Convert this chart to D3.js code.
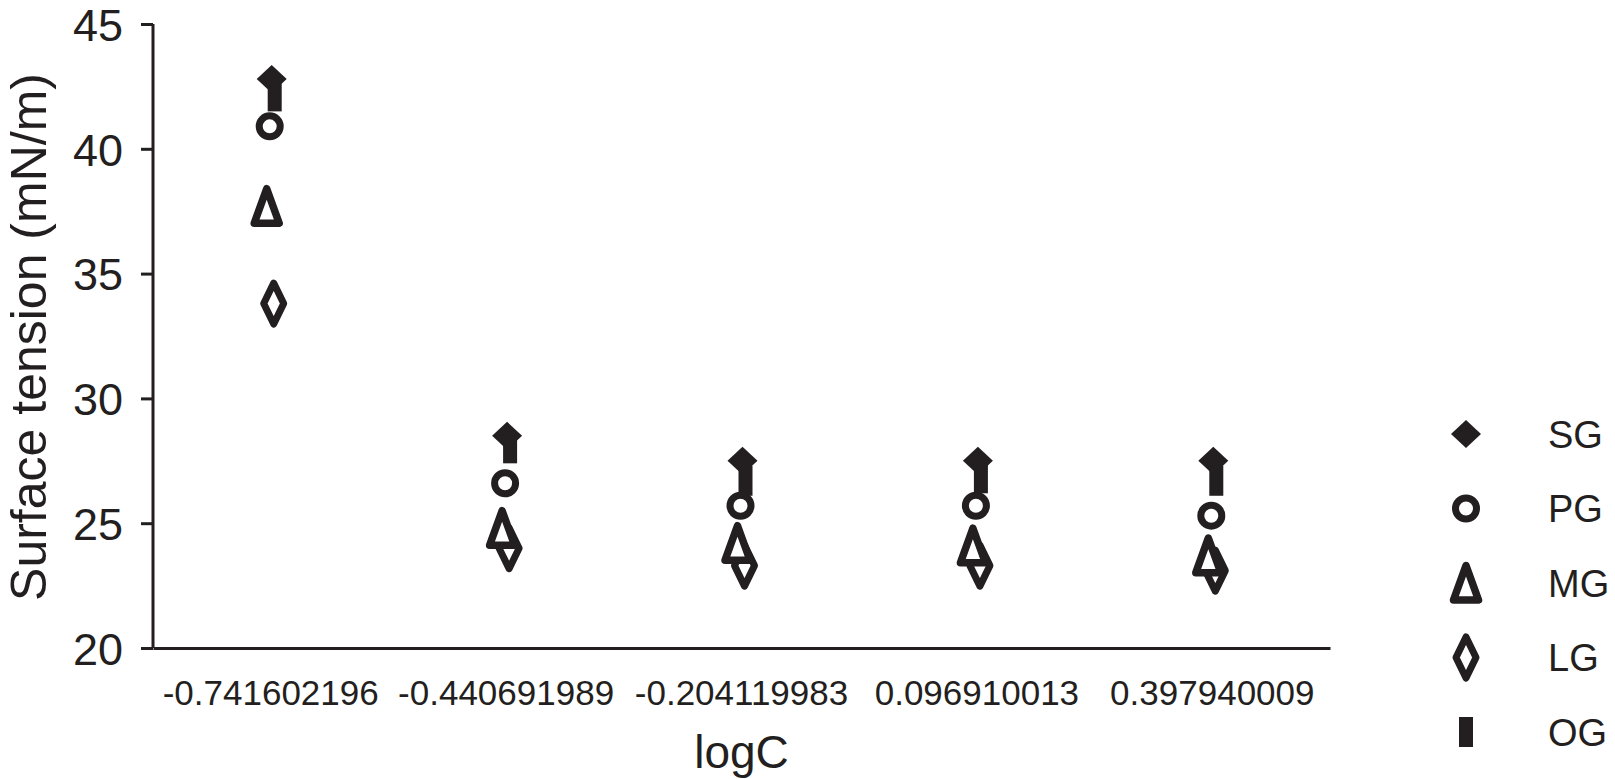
<!DOCTYPE html>
<html>
<head>
<meta charset="utf-8">
<script src="https://cdn.jsdelivr.net/npm/d3@7"></script>
<style>
  body { margin: 0; background: #fff; }
  svg text { font-family: "Liberation Sans", Arial, Helvetica, sans-serif; fill: #231f20; }
</style>
</head>
<body>
<div id="chart"></div>
<script>
const width = 1615;
const height = 779;

// categories on the x axis (logC)
const categories = ["-0.741602196", "-0.440691989", "-0.204119983", "0.096910013", "0.397940009"];

// surface tension (mN/m) per series
const sgValues = [42.8, 28.5, 27.5, 27.5, 27.5];
const ogValues = [42.1, 28.0, 26.7, 26.8, 26.7];
const pgValues = [40.9, 26.6, 25.7, 25.7, 25.3];
const mgValues = [37.7, 24.8, 24.2, 24.1, 23.7];
const lgValues = [33.8, 24.0, 23.3, 23.3, 23.1];

const yTicks = [20, 25, 30, 35, 40, 45];
const legendNames = ["SG", "PG", "MG", "LG", "OG"];

const ink = "#231f20";

// drawing order: open markers first, filled on top
const series = [
    { name: "LG", values: lgValues, shape: "diamondOpen", dx: 3 },
    { name: "MG", values: mgValues, shape: "triangle", dx: -4 },
    { name: "PG", values: pgValues, shape: "circle", dx: -1 },
    { name: "OG", values: ogValues, shape: "rect", dx: 4 },
    { name: "SG", values: sgValues, shape: "diamond", dx: 1 }
];

const margin = { left: 153, right: 285, top: 24, bottom: 131 };

const svg = d3.select("#chart")
    .append("svg")
    .attr("width", width)
    .attr("height", height);

const x = d3.scaleBand()
    .domain(categories)
    .range([margin.left, width - margin.right]);

const y = d3.scaleLinear()
    .domain([20, 45])
    .range([height - margin.bottom, margin.top]);

// marker shapes, centred on 0,0
function drawMarker(g, shape) {
    if (shape === "diamond") {
        g.append("path").attr("d", "M0,-14L15,0L0,14L-15,0Z").attr("fill", ink);
    } else if (shape === "rect") {
        g.append("rect").attr("x", -7).attr("y", -15).attr("width", 14).attr("height", 30).attr("fill", ink);
    } else if (shape === "circle") {
        g.append("circle").attr("r", 10.5).attr("fill", "#fff").attr("stroke", ink).attr("stroke-width", 7);
    } else if (shape === "triangle") {
        g.append("path").attr("d", "M0,-17.5L12.5,17L-12.5,17Z")
            .attr("fill", "#fff").attr("stroke", ink).attr("stroke-width", 7.5).attr("stroke-linejoin", "round");
    } else if (shape === "diamondOpen") {
        g.append("path").attr("d", "M0,-20.5L10,0L0,20.5L-10,0Z")
            .attr("fill", "#fff").attr("stroke", ink).attr("stroke-width", 7).attr("stroke-linejoin", "round");
    }
}

// y axis
const yAxis = svg.append("g")
    .attr("transform", `translate(${margin.left},0)`)
    .call(d3.axisLeft(y).tickValues(yTicks).tickSize(12).tickPadding(18));
yAxis.select(".domain").attr("stroke", ink).attr("stroke-width", 3).attr("d", `M0,${y(45)}V${y(20)}`);
yAxis.selectAll(".tick line").attr("stroke", ink).attr("stroke-width", 3);
yAxis.selectAll(".tick text").attr("font-size", 45).attr("dy", "0.36em").attr("fill", ink);

// x axis
const xAxis = svg.append("g")
    .attr("transform", `translate(0,${y(20)})`)
    .call(d3.axisBottom(x).tickSize(0).tickPadding(32));
xAxis.select(".domain").attr("stroke", ink).attr("stroke-width", 3);
xAxis.selectAll(".tick text").attr("font-size", 35).attr("fill", ink);

// axis titles
svg.append("text")
    .attr("x", (margin.left + width - margin.right) / 2)
    .attr("y", 768)
    .attr("text-anchor", "middle")
    .attr("font-size", 46)
    .text("logC");

svg.append("text")
    .attr("transform", `translate(46,${(y(20) + y(45)) / 2 + 1}) rotate(-90)`)
    .attr("text-anchor", "middle")
    .attr("font-size", 50)
    .text("Surface tension (mN/m)");

// points
series.forEach(s => {
    const grp = svg.append("g").attr("class", "series");
    s.values.forEach((v, i) => {
        const g = grp.append("g")
            .attr("transform", `translate(${x(categories[i]) + x.bandwidth() / 2 + s.dx},${y(v)})`);
        drawMarker(g, s.shape);
    });
});

// legend
const shapeOf = {};
series.forEach(s => shapeOf[s.name] = s.shape);
const legend = svg.append("g").attr("transform", "translate(1466,434)");
legendNames.forEach((name, i) => {
    const item = legend.append("g").attr("transform", `translate(0,${i * 74.5})`);
    drawMarker(item.append("g"), shapeOf[name]);
    item.append("text")
        .attr("x", 82)
        .attr("dy", "0.36em")
        .attr("font-size", 38)
        .text(name);
});
</script>
</body>
</html>
